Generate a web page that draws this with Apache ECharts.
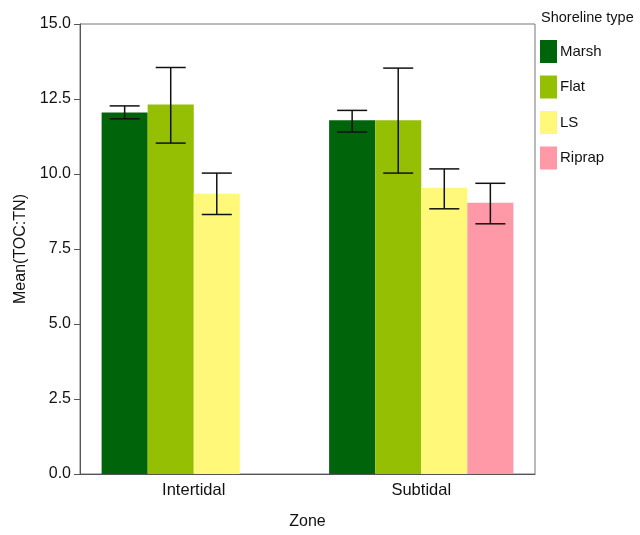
<!DOCTYPE html>
<html>
<head>
<meta charset="utf-8">
<script src="https://cdn.jsdelivr.net/npm/echarts@6/dist/echarts.min.js"></script>
<style>html,body{margin:0;padding:0;background:#fff}#c{width:640px;height:535px}</style>
</head>
<body>
<div id="c"></div>
<script>
const categories = ['Intertidal', 'Subtidal'];
const seriesNames = ['Marsh', 'Flat', 'LS', 'Riprap'];
const marsh = [12.05, 11.79];
const flat = [12.32, 11.79];
const ls = [9.34, 9.54];
const riprap = [null, 9.04];
const marshLow = [11.84, 11.40], marshHigh = [12.27, 12.12];
const flatLow = [11.03, 10.03], flatHigh = [13.55, 13.53];
const lsLow = [8.65, 8.84], lsHigh = [10.03, 10.17];
const riprapLow = [null, 8.34], riprapHigh = [null, 9.69];
const yTicks = ['0.0', '2.5', '5.0', '7.5', '10.0', '12.5', '15.0'];

const colors = ['#00640b', '#95bf03', '#fff879', '#ff98a7'];
const values = [marsh, flat, ls, riprap];
const lows = [marshLow, flatLow, lsLow, riprapLow];
const highs = [marshHigh, flatHigh, lsHigh, riprapHigh];
const gapPct = 0.19;
const nSeries = 4;

const font = 'Liberation Sans, Arial, sans-serif';
const series = [];
values.forEach((v, i) => {
  series.push({
    name: seriesNames[i], type: 'bar', data: v,
    itemStyle: { color: colors[i] },
    barGap: '0%', barCategoryGap: (gapPct * 100) + '%'
  });
});
values.forEach((v, i) => {
  const data = categories.map((c, j) => lows[i][j] == null ? null : [j, lows[i][j], highs[i][j]]).filter(d => d);
  series.push({
    type: 'custom', name: seriesNames[i] + ' err', silent: true, z: 10,
    data: data,
    encode: { x: 0, y: [1, 2] },
    renderItem: function (params, api) {
      const j = api.value(0);
      const bw = api.size([1, 0])[0];
      const barW = bw * (1 - gapPct) / nSeries;
      const offset = -bw * (1 - gapPct) / 2 + (i + 0.5) * barW;
      const lo = api.coord([j, api.value(1)]);
      const hi = api.coord([j, api.value(2)]);
      const x = lo[0] + offset;
      const cap = 15;
      const st = { stroke: '#111', lineWidth: 1.5 };
      return { type: 'group', children: [
        { type: 'line', shape: { x1: x, y1: lo[1], x2: x, y2: hi[1] }, style: st },
        { type: 'line', shape: { x1: x - cap, y1: lo[1], x2: x + cap, y2: lo[1] }, style: st },
        { type: 'line', shape: { x1: x - cap, y1: hi[1], x2: x + cap, y2: hi[1] }, style: st }
      ]};
    }
  });
});

const chart = echarts.init(document.getElementById('c'), null, { renderer: 'canvas' });
chart.setOption({
  animation: false,
  textStyle: { fontFamily: font },
  grid: { left: 80, top: 24, right: 105, bottom: 58, show: true, borderColor: '#777', borderWidth: 1 },
  graphic: [{ type: 'text', left: 541, top: 10, style: { text: 'Shoreline type', font: '14.5px ' + font, fill: '#111' } }],
  legend: {
    data: seriesNames, orient: 'vertical', left: 540, top: 40, padding: 0,
    itemWidth: 17, itemHeight: 23, itemGap: 12.5, icon: 'rect',
    textStyle: { fontSize: 15, color: '#111', fontFamily: font, padding: [0, 0, 0, -2] }
  },
  xAxis: {
    type: 'category', data: categories,
    name: 'Zone', nameLocation: 'middle', nameGap: 40,
    nameTextStyle: { fontSize: 16, color: '#111', fontFamily: font },
    axisLine: { lineStyle: { color: '#555', width: 1 } },
    axisTick: { show: false },
    axisLabel: { fontSize: 16.5, color: '#111', margin: 8, fontFamily: font }
  },
  yAxis: {
    type: 'value', min: 0, max: 15, interval: 2.5,
    name: 'Mean(TOC:TN)', nameLocation: 'middle', nameGap: 50,
    nameTextStyle: { fontSize: 16, color: '#111', fontFamily: font },
    axisLine: { show: true, lineStyle: { color: '#555' } },
    axisTick: { show: true, length: 6, lineStyle: { color: '#555' } },
    splitLine: { show: false },
    axisLabel: { fontSize: 16, color: '#111', margin: 9, fontFamily: font,
      formatter: v => yTicks[Math.round(v / 2.5)] }
  },
  series: series
});
</script>
</body>
</html>
